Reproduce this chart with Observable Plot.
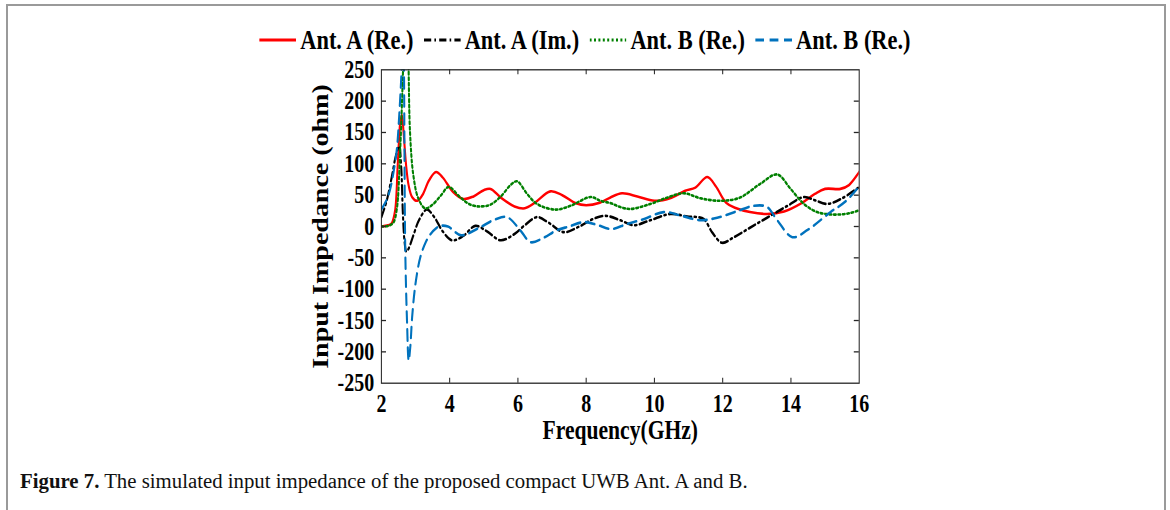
<!DOCTYPE html>
<html><head><meta charset="utf-8">
<script src="https://cdn.jsdelivr.net/npm/d3@7"></script>
<script src="https://cdn.jsdelivr.net/npm/@observablehq/plot@0.6"></script>
<style>
html,body{margin:0;padding:0;background:#fff;}
body{width:1170px;height:510px;position:relative;overflow:hidden;}
#border{position:absolute;left:6px;top:4px;width:1156px;height:540px;border:2px solid #9a9a9a;}
#fig{position:absolute;left:0;top:0;width:1462.5px;height:450px;transform:scaleX(0.8);transform-origin:0 0;}
#legend{position:absolute;left:0;top:25px;width:1462.5px;display:flex;justify-content:center;align-items:center;font-family:"Liberation Serif","Times New Roman",serif;font-weight:bold;font-size:28px;line-height:30px;}
.item{display:flex;align-items:center;margin-right:13px}
.item:last-child{margin-right:0}
.item svg{margin-right:5px}
#chart{position:absolute;left:0;top:0}
#chart svg text{font-family:"Liberation Serif","Times New Roman",serif;font-weight:bold;fill:#000}
#caption{position:absolute;left:20px;top:469px;font-family:"Liberation Serif","Times New Roman",serif;font-size:20.8px;color:#111;white-space:nowrap;}
</style></head>
<body>
<div id="border"></div>
<div id="fig">
  <div id="chart"></div>
  <div id="legend"></div>
</div>
<div id="caption"><b>Figure 7.</b> The simulated input impedance of the proposed compact UWB Ant. A and B.</div>
<script>
// ---- data ----
const seriesNames = ["Ant. A (Re.)", "Ant. A (Im.)", "Ant. B (Re.)", "Ant. B (Re.)"];
const seriesColors = ["#ff0000", "#000000", "#008000", "#0072bd"];
const seriesDash = ["none", "9,4,2,4", "2.5,3", "11,7"];

const freqA_re = [2.0,2.2,2.3,2.4,2.48,2.55,2.6,2.65,2.72,2.8,2.9,3.05,3.2,3.4,3.6,3.8,4.1,4.4,4.7,5.0,5.2,5.5,5.9,6.2,6.5,6.95,7.3,7.7,8.0,8.4,8.7,9.05,9.5,10.0,10.5,10.9,11.2,11.55,11.8,12.1,12.4,12.8,13.3,13.8,14.3,14.7,15.0,15.45,15.7,16.0];
const valA_re  = [0,2,5,25,100,165,178,150,100,65,47,41,50,74,87,78,55,44,48,58,60,46,32,29,38,56,50,37,34,38,46,53,48,41,46,57,62,79,64,38,29,23,20,24,37,52,60,60,66,87];

const freqA_im = [2.0,2.15,2.3,2.42,2.52,2.58,2.63,2.68,2.73,2.8,2.95,3.1,3.33,3.55,3.8,4.07,4.4,4.75,5.1,5.49,5.9,6.2,6.56,6.9,7.34,7.8,8.2,8.57,9.0,9.39,9.88,10.47,10.96,11.25,11.45,11.7,11.98,12.3,12.8,13.3,13.9,14.38,14.7,15.06,15.5,16.0];
const valA_im  = [15,40,78,112,128,95,20,-25,-40,-35,-12,10,27,15,-8,-22,-15,1,-8,-22,-12,2,15,6,-9,0,12,17,10,2,10,20,16,15,12,-10,-26,-18,-2,14,33,47,42,36,45,63];

const freqB_re = [2.0,2.2,2.35,2.45,2.55,2.64,2.72,2.79,2.84,2.94,3.08,3.28,3.5,3.75,3.97,4.3,4.6,4.9,5.2,5.5,5.8,5.98,6.27,6.56,7.1,7.54,8.13,8.42,8.73,9.0,9.3,9.88,10.37,10.86,11.35,11.93,12.5,13.1,13.6,13.99,14.38,14.77,15.26,15.7,16.0];
const valB_re  = [0,1,6,27,122,260,420,270,149,80,45,29,35,50,63,47,35,32,35,48,67,72,52,36,27,33,47,41,37,31,28,36,46,53,45,41,46,68,83,60,36,23,19,21,26];

const freqB_re2 = [2.0,2.15,2.25,2.35,2.45,2.52,2.6,2.64,2.7,2.75,2.8,2.85,2.9,3.0,3.14,3.3,3.44,3.6,3.73,3.95,4.34,4.83,5.32,5.68,6.07,6.37,6.75,7.14,7.5,7.93,8.3,8.73,9.2,9.7,10.27,10.8,11.35,11.84,12.4,12.91,13.3,13.6,14.04,14.5,15.16,15.6,16.0];
const valB_re2  = [27,42,58,85,122,175,260,330,-40,-150,-214,-190,-145,-91,-49,-25,-12,-3,1,0,-14,-3,11,15,-6,-25,-18,-6,0,7,3,-4,4,12,23,17,10,14,24,33,31,10,-17,-5,23,40,64];

const xTicks = [2,4,6,8,10,12,14,16];
const yTicks = [-250,-200,-150,-100,-50,0,50,100,150,200,250];
const xLabel = "Frequency(GHz)";
const yLabel = "Input Impedance (ohm)";

const series = [
  [freqA_re, valA_re],
  [freqA_im, valA_im],
  [freqB_re, valB_re],
  [freqB_re2, valB_re2]
];

// ---- chart ----
const W = 1462.5, H = 450;
const mL = 476.25, mR = 389, mT = 69.3, mB = 67.3;
const pxPerX = (W - mL - mR) / 14;     // px per GHz (unscaled)
const pxPerY = (H - mT - mB) / 500;    // px per ohm
const tickLenX = 5 / pxPerY;           // x-axis tick length in data units
const tickLenY = 6.25 / pxPerX;        // y-axis tick length in data units
const axisColor = "#262626";
const fmt = d => String(d);            // plain hyphen minus, as in the reference

const lineMarks = series.map(([f, v], i) => Plot.line(v, {
  x: f, y: v, curve: "catmull-rom", clip: true,
  stroke: seriesColors[i], strokeWidth: 2.6,
  strokeDasharray: seriesDash[i] === "none" ? undefined : seriesDash[i]
}));

const chart = Plot.plot({
  width: W, height: H,
  marginLeft: mL, marginRight: mR, marginTop: mT, marginBottom: mB,
  x: {domain: [2, 16]},
  y: {domain: [-250, 250]},
  style: {background: "transparent", color: "#000", overflow: "visible"},
  marks: [
    ...lineMarks,
    Plot.frame({stroke: axisColor, strokeWidth: 1.3}),
    Plot.ruleX(xTicks.slice(1, -1), {y1: -250, y2: -250 + tickLenX, stroke: axisColor, strokeWidth: 1.3}),
    Plot.ruleX(xTicks.slice(1, -1), {y1: 250, y2: 250 - tickLenX, stroke: axisColor, strokeWidth: 1.3}),
    Plot.ruleY(yTicks.slice(1, -1), {x1: 2, x2: 2 + tickLenY, stroke: axisColor, strokeWidth: 1.3}),
    Plot.ruleY(yTicks.slice(1, -1), {x1: 16, x2: 16 - tickLenY, stroke: axisColor, strokeWidth: 1.3}),
    Plot.axisX(xTicks, {tickSize: 0, tickPadding: 11, label: null, tickFormat: fmt, fontSize: 25, fontWeight: "bold"}),
    Plot.axisY(yTicks, {tickSize: 0, tickPadding: 9, label: null, tickFormat: fmt, fontSize: 25, fontWeight: "bold"}),
    Plot.text([xLabel], {frameAnchor: "bottom", dy: 47, lineAnchor: "middle", textAnchor: "middle", fontSize: 27, fontWeight: "bold"}),
    Plot.text([yLabel], {frameAnchor: "left", dx: -76, rotate: -90, lineAnchor: "middle", textAnchor: "middle", fontSize: 28, fontWeight: "bold"})
  ]
});
document.getElementById("chart").appendChild(chart);

// ---- legend ----
const legend = document.getElementById("legend");
seriesNames.forEach((name, i) => {
  const item = document.createElement("div");
  item.className = "item";
  const sw = d3.create("svg").attr("width", 46).attr("height", 20);
  sw.append("line").attr("x1", 0).attr("x2", 46).attr("y1", 10).attr("y2", 10)
    .attr("stroke", seriesColors[i]).attr("stroke-width", 2.8)
    .attr("stroke-dasharray", seriesDash[i] === "none" ? null : seriesDash[i]);
  item.appendChild(sw.node());
  const t = document.createElement("span");
  t.textContent = name;
  item.appendChild(t);
  legend.appendChild(item);
});
</script>
</body></html>
